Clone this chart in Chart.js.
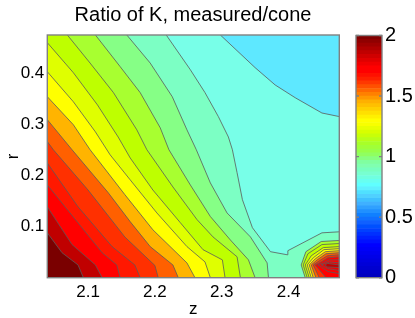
<!DOCTYPE html>
<html>
<head>
<meta charset="utf-8">
<style>
  html, body { margin: 0; padding: 0; background: #fff; }
  #wrap { position: relative; width: 415px; height: 318px; overflow: hidden; }
  canvas { position: absolute; top: 0; }
</style>
<script src="https://cdn.jsdelivr.net/npm/chart.js@4/dist/chart.umd.min.js"></script>
</head>
<body>
<div id="wrap">
  <canvas id="contourChart" width="386" height="318" style="left:0"></canvas>
  <canvas id="barChart" width="70" height="318" style="left:345px"></canvas>
</div>
<script>
// contour lines, [z, r]
const c1 = [[2.298,.476],[2.350,.412],[2.380,.378],[2.410,.353],[2.450,.323],[2.476,.316]];
const c2 = [[2.217,.476],[2.253,.408],[2.275,.363],[2.295,.316],[2.310,.276],[2.316,.251],[2.323,.206],[2.331,.153],[2.346,.098],[2.373,.051],[2.398,.045],[2.399,.053],[2.450,.088],[2.476,.090]];
const c3 = [[2.158,.476],[2.193,.421],[2.226,.355],[2.248,.290],[2.262,.251],[2.283,.186],[2.308,.127],[2.343,.080],[2.368,.029],[2.370,0]];
const c4 = [[2.111,.476],[2.148,.414],[2.178,.363],[2.208,.294],[2.221,.251],[2.253,.182],[2.283,.120],[2.313,.074],[2.340,.035],[2.350,0]];
const c5 = [[2.069,.476],[2.103,.421],[2.138,.363],[2.173,.290],[2.188,.251],[2.227,.178],[2.263,.114],[2.287,.080],[2.323,.041],[2.328,0]];
const c6 = [[2.039,.461],[2.078,.402],[2.114,.339],[2.145,.276],[2.163,.235],[2.197,.172],[2.238,.108],[2.272,.055],[2.301,.035],[2.305,0]];
const c7 = [[2.039,.404],[2.078,.345],[2.111,.286],[2.133,.241],[2.163,.192],[2.203,.127],[2.248,.061],[2.275,.031],[2.283,0]];
const c8 = [[2.039,.355],[2.078,.300],[2.103,.251],[2.155,.163],[2.197,.094],[2.248,.029],[2.260,0]];
const c9 = [[2.039,.310],[2.076,.251],[2.130,.167],[2.163,.110],[2.193,.061],[2.227,.025],[2.235,0]];
const c10 = [[2.039,.267],[2.048,.251],[2.100,.172],[2.155,.080],[2.200,.024],[2.205,0]];
const c11 = [[2.039,.225],[2.085,.139],[2.136,.061],[2.170,.025],[2.178,0]];
const c12 = [[2.039,.182],[2.081,.114],[2.121,.049],[2.143,.025],[2.148,0]];
const c13 = [[2.039,.139],[2.076,.065],[2.111,.025],[2.121,0]];
const c14 = [[2.039,.088],[2.061,.049],[2.085,.025],[2.093,0]];
const mainLines = [c1, c2, c3, c4, c5, c6, c7, c8, c9, c10, c11, c12, c13, c14];

// the small peak at lower right
const p1 = [[2.425,0],[2.419,.025],[2.426,.051],[2.449,.071],[2.476,.073]];
const p2 = [[2.428,0],[2.422,.025],[2.429,.047],[2.450,.065],[2.476,.067]];
const p3 = [[2.431,0],[2.425,.025],[2.434,.043],[2.452,.059],[2.476,.061]];
const p4 = [[2.434,0],[2.428,.025],[2.437,.039],[2.453,.055],[2.476,.057]];
const p5 = [[2.437,0],[2.431,.025],[2.440,.037],[2.455,.051],[2.476,.053]];
const p6 = [[2.441,0],[2.434,.025],[2.443,.035],[2.456,.047],[2.476,.049]];
const p7 = [[2.446,0],[2.437,.025],[2.446,.033],[2.458,.043],[2.476,.045]];
const p8 = [[2.456,0],[2.440,.025],[2.449,.031],[2.459,.039],[2.476,.041]];
const p9 = [[2.476,.008],[2.459,.012],[2.444,.025],[2.452,.029],[2.461,.035],[2.476,.035]];
const p10 = [[2.476,.014],[2.459,.018],[2.449,.025],[2.461,.031],[2.476,.029]];
const p11 = [[2.476,.020],[2.458,.021],[2.455,.025],[2.458,.028],[2.476,.025]];
const peakLines = [p1, p2, p3, p4, p5, p6, p7, p8, p9, p10, p11];

const baseColor = '#5ee8ff';
const bandColors = ['#78ffe8','#7cffc4','#86ff86','#a8ff30','#beff00','#dfff00','#ffff00','#ffb400','#ff6000','#ff3000','#ff1800','#ff0000','#c00000','#7a0000'];
const peakColors = ['#a8ff30','#beff00','#dfff00','#ffff00','#ffb400','#ff6000','#ff3000','#ff0000','#ff0000','#f00000','#c00000'];

const xMin = 2.039, xMax = 2.476, yMin = 0, yMax = 0.476;
const xTicks = [2.1, 2.2, 2.3, 2.4];
const yTicks = [0.1, 0.2, 0.3, 0.4];
const barTicks = [0, 0.5, 1, 1.5, 2];
const barStep = 0.03125;
const barColors = [
  '#0000c0','#0000c8','#0000d0','#0000d8','#0000e0','#0000e8','#0000f0','#0000f8','#0000ff',
  '#0010ff','#0020ff','#0030ff','#0040ff','#0050ff','#1060ff','#1070ff','#1080ff',
  '#2090ff','#30a0ff','#40b0ff','#40c0ff','#50d0ff','#50e0ff','#60f0ff',
  '#60ffff','#68fff0','#70ffe0','#78ffd0','#78ffc0','#80ffb0','#80ffa0','#88ff80','#90ff60',
  '#98ff48','#a0ff38','#a8ff28','#b8ff18','#c8ff08','#d8ff00','#e8ff00',
  '#f8ff00','#ffff00','#fff000','#ffe000','#ffd000',
  '#ffc000','#ffb000','#ff9800','#ff8000','#ff6800','#ff5000','#ff3800','#ff2000','#ff1000','#ff0000','#ff0000',
  '#f00000','#e00000','#d00000','#c00000','#b00000','#a00000','#900000','#800000'
];

const font = 'Liberation Sans, Arial, sans-serif';
const frameColor = '#808080';
const lineColor = '#5a5a5a';

function toPoints(line) {
  return line.map(p => ({ x: p[0], y: p[1] }));
}

// close a contour around the lower left corner so it can be filled
function closeBand(line) {
  const first = line[0], last = line[line.length - 1];
  const pts = line.slice();
  if (last[0] === xMax) pts.push([xMax, yMin]);
  pts.push([xMin, yMin]);
  if (first[1] === yMax) pts.push([xMin, yMax]);
  return pts;
}

// close a peak contour along the bottom right corner
function closePeak(line) {
  const pts = line.slice();
  if (line[0][1] === 0) pts.push([xMax, yMin]);
  return pts;
}

function fillSet(pts, color) {
  return { data: toPoints(pts), showLine: true, fill: 'shape', backgroundColor: color, borderWidth: 0, borderColor: 'transparent', pointRadius: 0, tension: 0 };
}

function lineSet(line) {
  return { data: toPoints(line), showLine: true, fill: false, borderColor: lineColor, borderWidth: 0.8, pointRadius: 0, tension: 0 };
}

const layers = [fillSet([[xMin, yMax], [xMax, yMax], [xMax, yMin], [xMin, yMin]], baseColor)];
mainLines.forEach((line, i) => layers.push(fillSet(closeBand(line), bandColors[i])));
mainLines.forEach(line => layers.push(lineSet(line)));
peakLines.forEach((line, i) => {
  layers.push(fillSet(closePeak(line), peakColors[i]));
  layers.push(lineSet(line));
});

// Chart.js paints the first dataset last
const framePlugin = {
  id: 'frame',
  afterDraw(chart) {
    const a = chart.chartArea, ctx = chart.ctx;
    ctx.save();
    ctx.strokeStyle = frameColor;
    ctx.lineWidth = 1.4;
    ctx.strokeRect(a.left, a.top, a.right - a.left, a.bottom - a.top);
    const yScale = chart.scales.y;
    if (chart.config.type === 'bar') {
      yScale.ticks.forEach(t => {
        const py = yScale.getPixelForValue(t.value);
        ctx.beginPath();
        ctx.moveTo(a.left, py); ctx.lineTo(a.left + 3, py);
        ctx.moveTo(a.right - 3, py); ctx.lineTo(a.right, py);
        ctx.stroke();
      });
    }
    ctx.restore();
  }
};

new Chart(document.getElementById('contourChart'), {
  type: 'scatter',
  data: { datasets: layers.reverse() },
  plugins: [framePlugin],
  options: {
    responsive: false,
    animation: false,
    plugins: {
      legend: { display: false },
      tooltip: { enabled: false },
      title: {
        display: true,
        text: 'Ratio of K, measured/cone',
        color: '#000',
        font: { family: font, size: 20, weight: 'normal', lineHeight: 1.2 },
        padding: { top: 3, bottom: 8 }
      }
    },
    scales: {
      x: {
        type: 'linear', min: xMin, max: xMax,
        grid: { display: false, drawTicks: false },
        border: { display: false },
        afterBuildTicks: s => { s.ticks = xTicks.map(v => ({ value: v })); },
        afterFit: s => { s.height = 40.3; },
        ticks: { color: '#000', font: { family: font, size: 17 }, padding: 4, maxRotation: 0, autoSkip: false, callback: v => v.toFixed(1) },
        title: { display: true, text: 'z', color: '#000', font: { family: font, size: 17, lineHeight: 1 }, padding: { top: 0, bottom: 0 } }
      },
      y: {
        type: 'linear', min: yMin, max: yMax,
        grid: { display: false, drawTicks: false },
        border: { display: false },
        afterBuildTicks: s => { s.ticks = yTicks.map(v => ({ value: v })); },
        afterFit: s => { s.width = 47.3; },
        ticks: { color: '#000', font: { family: font, size: 17 }, padding: 3, autoSkip: false, callback: v => v.toFixed(1) },
        title: { display: true, text: 'r', color: '#000', font: { family: font, size: 17 }, padding: { top: 3, bottom: 0 } }
      },
      // empty axis that keeps the title centred over the plot
      spacer: {
        type: 'linear', position: 'right',
        grid: { display: false, drawTicks: false },
        border: { display: false },
        ticks: { display: false },
        afterFit: s => { s.width = 46.7; }
      }
    }
  }
});

// colour bar beside the plot
new Chart(document.getElementById('barChart'), {
  type: 'bar',
  data: {
    labels: [''],
    datasets: barColors.map(c => ({ data: [barStep], backgroundColor: c, barPercentage: 1, categoryPercentage: 1, borderWidth: 0 }))
  },
  plugins: [framePlugin],
  options: {
    responsive: false,
    animation: false,
    layout: { padding: { left: 11, right: 0, top: 35.5, bottom: 40.3 } },
    plugins: { legend: { display: false }, tooltip: { enabled: false } },
    scales: {
      x: { stacked: true, display: false },
      y: {
        stacked: true, position: 'right', min: 0, max: 2,
        grid: { display: false, drawTicks: false },
        border: { display: false },
        afterBuildTicks: s => { s.ticks = barTicks.map(v => ({ value: v })); },
        afterFit: s => { s.width = 33; },
        ticks: { color: '#000', font: { family: font, size: 20 }, padding: 3, autoSkip: false, callback: v => String(v) }
      }
    }
  }
});
</script>
</body>
</html>
